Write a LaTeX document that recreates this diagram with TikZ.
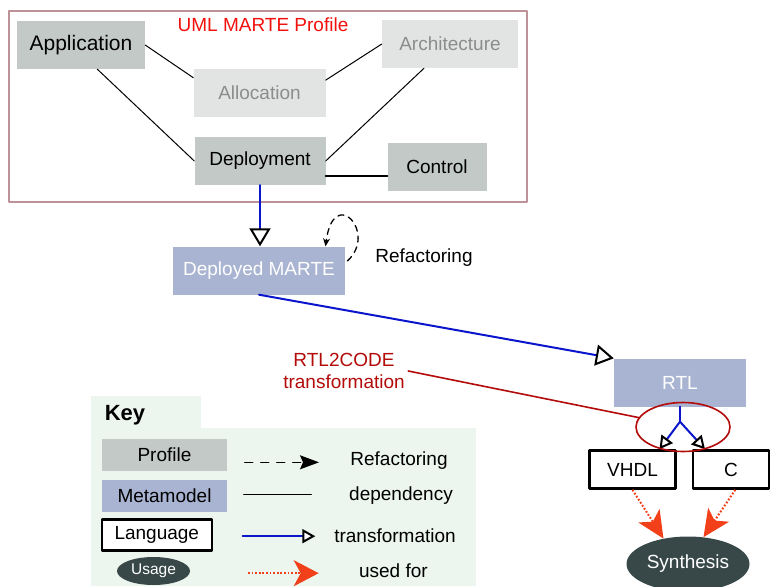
\documentclass[tikz,border=0pt]{standalone}
\usepackage{fontspec}
\setmainfont{Liberation Sans}
\usetikzlibrary{positioning,arrows.meta,shapes.geometric,calc}
\definecolor{ProfileGray}{HTML}{C3C9C7}
\definecolor{FadedGray}{HTML}{E1E4E2}
\definecolor{FadedText}{HTML}{8C8C8C}
\definecolor{MetaBlue}{HTML}{A9B4D2}
\definecolor{FrameRose}{HTML}{BC9198}
\definecolor{TitleRed}{HTML}{F2100C}
\definecolor{CodeRed}{HTML}{B30A0A}
\definecolor{TransBlue}{HTML}{0B16CC}
\definecolor{UsedRed}{HTML}{F2401A}
\definecolor{UsageDark}{HTML}{384848}
\definecolor{KeyGreen}{HTML}{EDF6EE}

\begin{document}
\begin{tikzpicture}[x=1pt,y=-1pt,line cap=round,line join=round,
  font=\fontsize{19}{22}\selectfont,
  box/.style={inner sep=0pt,minimum height=48pt},
  profile/.style={box,fill=ProfileGray},
  faded/.style={box,fill=FadedGray,text=FadedText},
  meta/.style={box,fill=MetaBlue,text=white},
  lang/.style={box,minimum height=38pt,draw=black,line width=2.6pt,fill=white},
  usage/.style={ellipse,inner sep=0pt,fill=UsageDark,text=white},
  dep/.style={draw=black,line width=1pt},
  trans/.style={draw=TransBlue,line width=2pt,-{Triangle[length=18pt,width=21pt,fill=white,color=black]}},
  transsmall/.style={draw=TransBlue,line width=2pt,-{Triangle[length=13pt,width=14pt,fill=white,color=black]}},
  refactor/.style={draw=black,line width=1.3pt,dash pattern=on 6pt off 5pt,-{Stealth[length=8pt,width=7pt]}},
  usedfor/.style={draw=UsedRed,line width=2pt,line cap=butt,dash pattern=on 1.8pt off 1.8pt,-{Stealth[length=27pt,width=25pt,inset=7pt]}}]
  \useasboundingbox (0,0) rectangle (770,586);
  % key panel goes underneath everything
  \fill[KeyGreen] (91,396) -- (201,396) -- (201,428) -- (476,428) -- (476,586) -- (91,586) -- cycle;

  % profile part
  \draw[FrameRose,line width=1.6pt] (9,11) rectangle (527,202);
  \node[text=TitleRed] (title) at (263,25) {UML MARTE Profile};
  \node[profile,minimum width=128pt,font=\fontsize{21}{24}\selectfont] (app) at (81,45) {Application};
  \node[faded,minimum width=132pt] (alloc) at (259.5,93) {Allocation};
  \node[faded,minimum width=136pt] (arch) at (450,44) {Architecture};
  \node[profile,minimum width=131pt] (deploy) at (260,161) {Deployment};
  \node[profile,minimum width=99pt] (ctrl) at (437,167) {Control};
  \draw[dep] (app.east) -- (alloc.167);
  \draw[dep] (app.304) -- (deploy.west);
  \draw[dep] (alloc.11) -- (arch.west);
  \draw[dep] (arch.223) -- (deploy.east);
  \draw[dep,line width=2pt] (deploy.347) -- (deploy.347 -| ctrl.west);

  % metamodels
  \node[meta,minimum width=172pt] (dm) at (259,270.5) {Deployed MARTE};
  \draw[trans] (deploy.south) -- (deploy.south |- dm.north);
  \draw[refactor,shorten <=3pt] (dm.5) .. controls +(33,-30) and +(8,-62) .. (dm.20);
  \node (refac) at (424,258) {Refactoring};
  \node[meta,minimum width=132pt] (rtl) at (680,382.5) {RTL};
  \draw[trans] (dm.south) -- (rtl.north west);

  % code generation
  \node[text=CodeRed,align=center,font=\fontsize{19}{21.5}\selectfont] (r2c) at (344,371) {RTL2CODE\\transformation};
  \node[lang,minimum width=86pt] (vhdl) at (632.5,469.5) {VHDL};
  \node[lang,minimum width=76pt] (c) at (731,469.5) {C};
  \coordinate (fork) at ($(rtl.south)+(0,15)$);
  \draw[TransBlue,line width=2pt] (rtl.south) -- (fork);
  \draw[transsmall] (fork) -- (vhdl.37);
  \draw[transsmall] (fork) -- (c.142);
  \node[ellipse,draw=CodeRed,line width=1.6pt,minimum width=94pt,minimum height=49pt,inner sep=0pt] (ring) at (683,427) {};
  \draw[CodeRed,line width=1.6pt] (r2c.east) -- (ring.168);
  \node[usage,minimum width=123pt,minimum height=55pt] (synth) at (688,564) {Synthesis};
  \draw[usedfor] (vhdl.south) -- (synth.134);
  \draw[usedfor] (c.-78) -- (synth.60);

  % key
  \node[font=\bfseries\fontsize{22}{24}\selectfont] (key) at (125,415) {Key};
  \node[profile,minimum width=125pt,minimum height=32pt] (kprofile) at (164.5,454.5) {Profile};
  \node[meta,minimum width=125pt,minimum height=32pt,text=black] (kmeta) at (164.5,495.7) {Metamodel};
  \node[lang,minimum width=110pt,minimum height=31pt] (klang) at (156.8,535) {Language};
  \node[usage,minimum width=73pt,minimum height=28pt,font=\fontsize{15.5}{18}\selectfont] (kusage) at (153.5,571) {Usage};
  \coordinate (r1) at (244.7,462.3); \coordinate (r2) at (319,462.3);
  \coordinate (d1) at (243.7,494.2); \coordinate (d2) at (311.3,494.2);
  \coordinate (t1) at (242.7,536.2); \coordinate (t2) at (315.3,536.2);
  \coordinate (u1) at (248,573.2); \coordinate (u2) at (318.7,573.2);
  \draw[refactor,dash pattern=on 8pt off 8pt,-{Stealth[length=19pt,width=14pt,inset=3pt]}] (r1) -- (r2);
  \draw[dep] (d1) -- (d2);
  \draw[transsmall] (t1) -- (t2);
  \draw[usedfor,-{Stealth[length=25pt,width=26pt,inset=7pt]}] (u1) -- (u2);
  \node (krefac) at (399,460.6) {Refactoring};
  \node (kdep) at (401,495.5) {dependency};
  \node (ktrans) at (395,536) {transformation};
  \node (kused) at (393.4,570.5) {used for};
\end{tikzpicture}
\end{document}
